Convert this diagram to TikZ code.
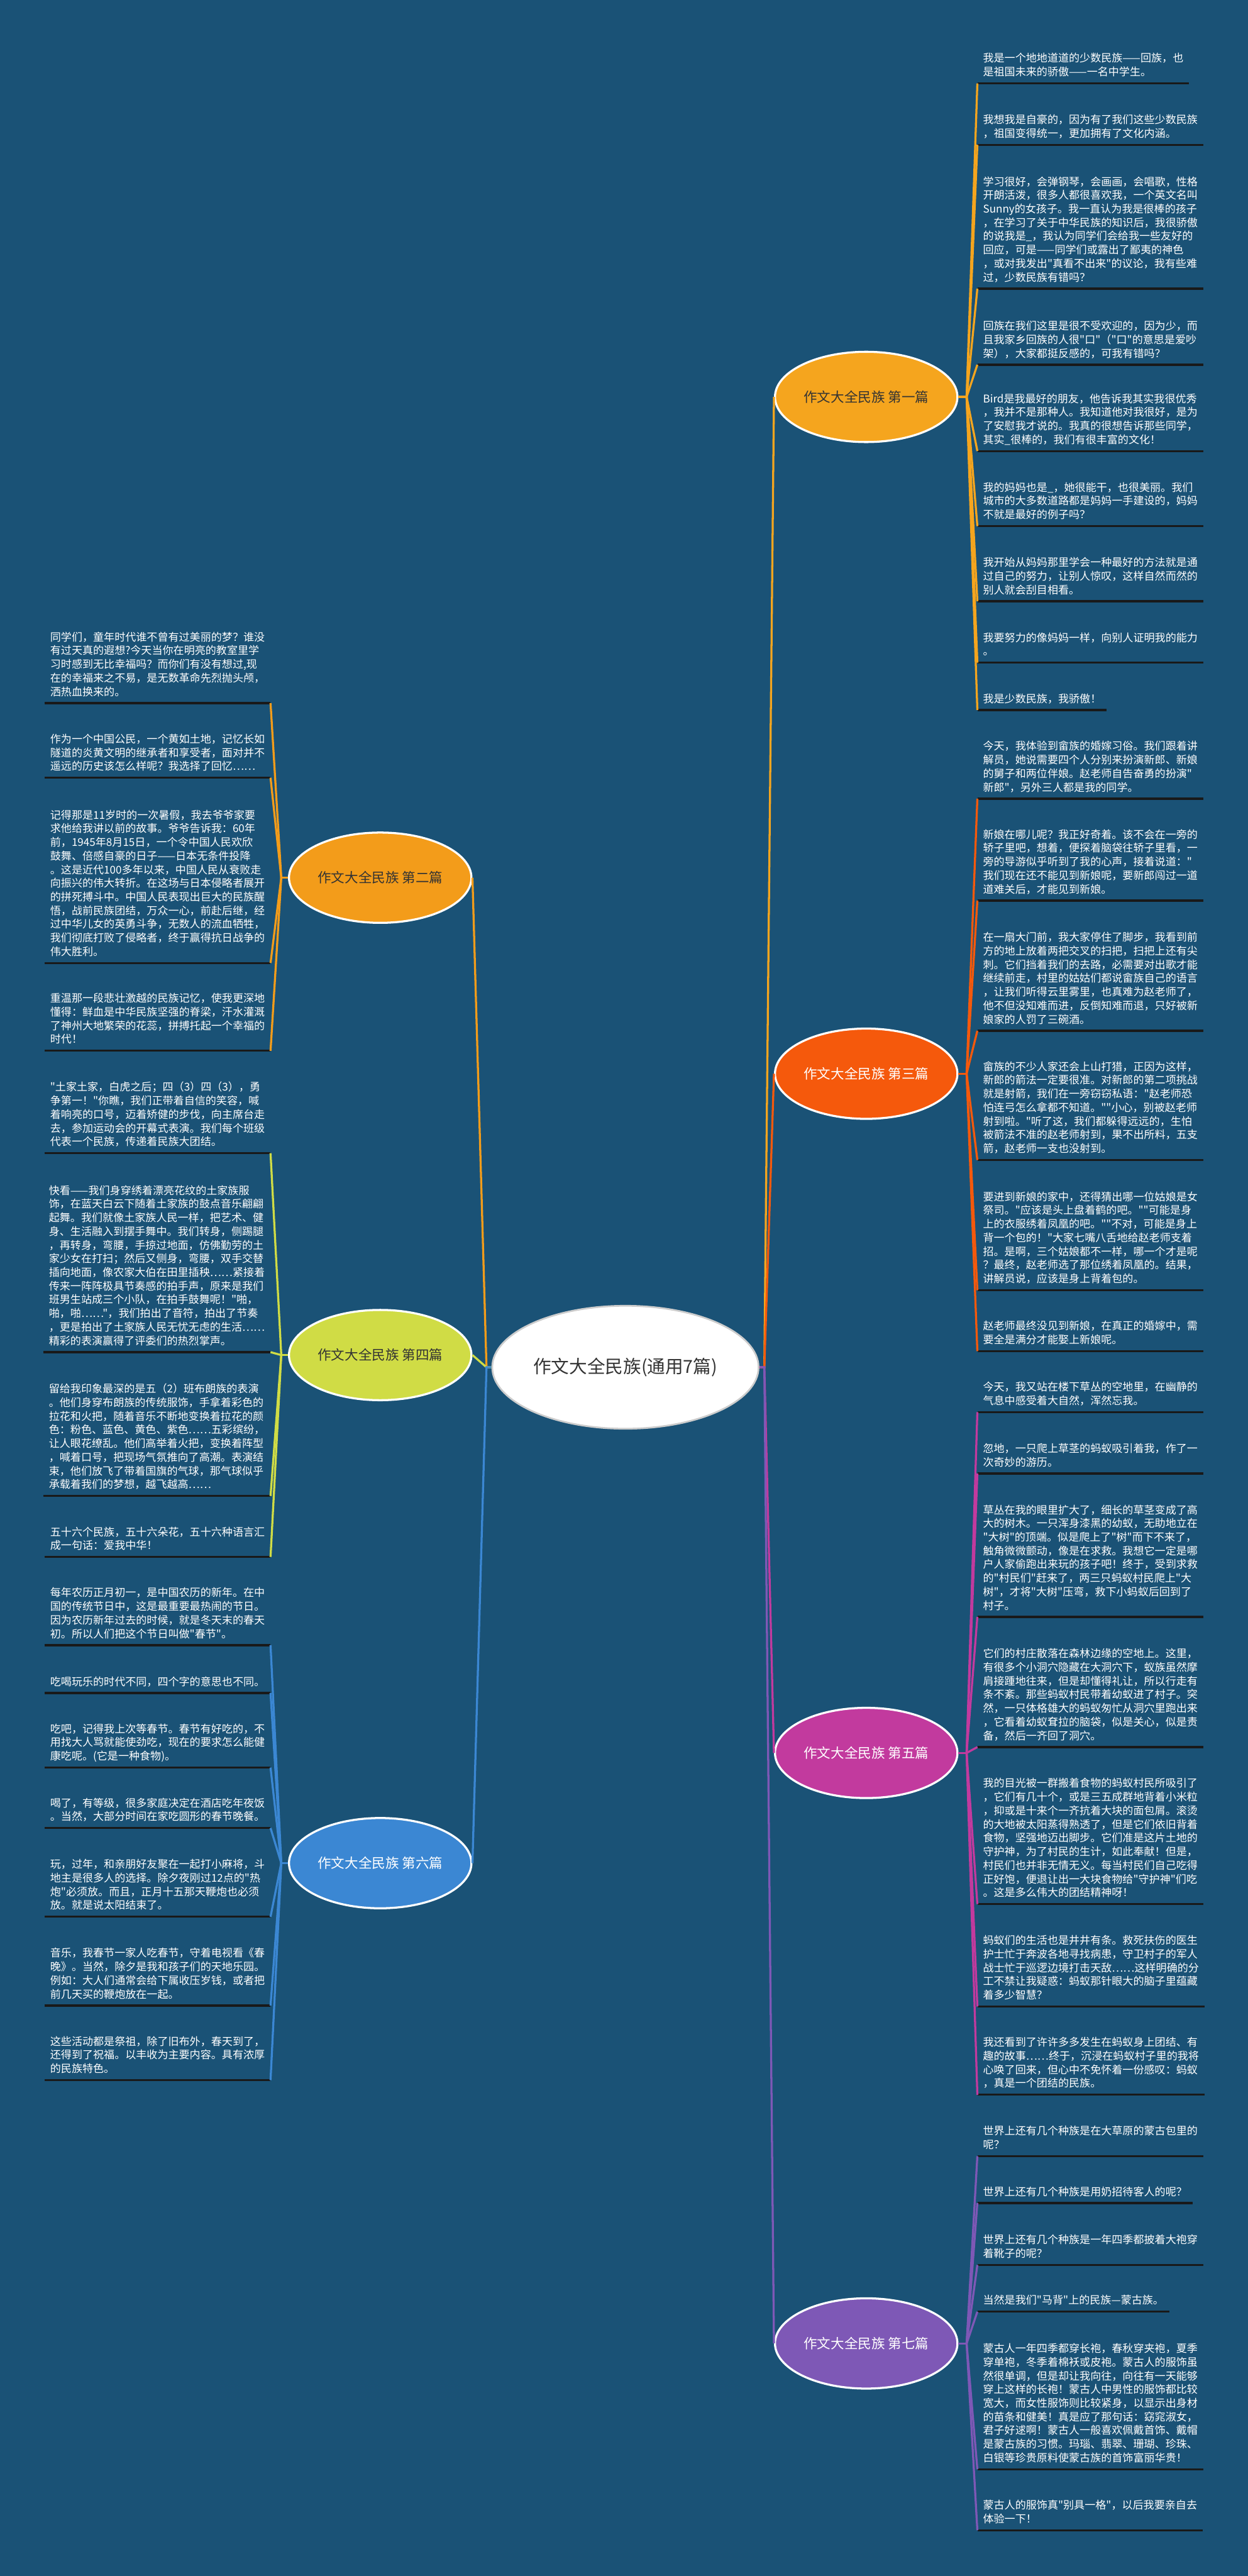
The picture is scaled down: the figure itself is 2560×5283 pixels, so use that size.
\documentclass[tikz,border=0pt]{standalone}
\usepackage{fontspec}
\newfontfamily\cjk{Noto Sans CJK SC}
\usetikzlibrary{shapes.geometric}
\definecolor{bgblue}{HTML}{1A5276}
\definecolor{yiOrange}{HTML}{F5A51E}
\definecolor{erOrange}{HTML}{F39C1A}
\definecolor{sanRed}{HTML}{F5590C}
\definecolor{siGreen}{HTML}{D0DC45}
\definecolor{wuPink}{HTML}{C23A9E}
\definecolor{liuBlue}{HTML}{3B87D3}
\definecolor{qiPurple}{HTML}{7E58B6}
\begin{document}
\begin{tikzpicture}[x=0.01cm, y=-0.01cm,
  hub/.style={ellipse, fill=white, draw=black!20, line width=1pt, minimum width=5.46cm,
              minimum height=2.52cm, inner sep=0pt, text=black!80,
              font=\cjk\fontsize{10.5pt}{12pt}\selectfont},
  branch/.style={ellipse, draw=white, line width=1.2pt, minimum width=3.74cm,
                 minimum height=1.85cm, inner sep=0pt, font=\cjk\fontsize{7.9pt}{9pt}\selectfont},
  txt/.style={align=left, text=white, inner xsep=0.11cm, inner ysep=0.146cm, text depth=0pt,
              font=\cjk\fontsize{6.26pt}{7.97pt}\selectfont},
  rtxt/.style={txt, anchor=south west},
  ltxt/.style={txt, anchor=south east},
  uline/.style={black!90, line width=1.2pt},
  con/.style={line width=1.2pt},
]
\fill[bgblue] (0,0) rectangle (2560,5283);
\useasboundingbox (0,0) rectangle (2560,5283);

% hub and the seven essays
\node[hub] (hub) at (1283,2804) {作文大全民族(通用7篇)};
\node[branch, fill=yiOrange, text=black!80] (p1) at (1777,814) {作文大全民族 第一篇};
\node[branch, fill=erOrange, text=black!80] (p2) at (780,1800) {作文大全民族 第二篇};
\node[branch, fill=sanRed, text=white] (p3) at (1777,2202) {作文大全民族 第三篇};
\node[branch, fill=siGreen, text=black!80] (p4) at (780,2779) {作文大全民族 第四篇};
\node[branch, fill=wuPink, text=white] (p5) at (1777,3595) {作文大全民族 第五篇};
\node[branch, fill=liuBlue, text=white] (p6) at (780,3821) {作文大全民族 第六篇};
\node[branch, fill=qiPurple, text=white] (p7) at (1777,4806) {作文大全民族 第七篇};

\coordinate (jr) at (1568,2804);
\coordinate (jl) at (998,2804);
\coordinate (j1) at (1983,814);
\coordinate (j3) at (1983,2202);
\coordinate (j5) at (1983,3595);
\coordinate (j7) at (1983,4806);
\coordinate (j2) at (577,1800);
\coordinate (j4) at (577,2779);
\coordinate (j6) at (577,3821);

% right column
\node[rtxt] (r1) at (2005,171) {我是一个地地道道的少数民族——回族，也\\
是祖国未来的骄傲——一名中学生。};
\node[rtxt] (r2) at (2005,297) {我想我是自豪的，因为有了我们这些少数民族\\
，祖国变得统一，更加拥有了文化内涵。};
\node[rtxt] (r3) at (2005,592) {学习很好，会弹钢琴，会画画，会唱歌，性格\\
开朗活泼，很多人都很喜欢我，一个英文名叫\\
Sunny的女孩子。我一直认为我是很棒的孩子\\
，在学习了关于中华民族的知识后，我很骄傲\\
的说我是\_，我认为同学们会给我一些友好的\\
回应，可是——同学们或露出了鄙夷的神色\\
，或对我发出"真看不出来"的议论，我有些难\\
过，少数民族有错吗？};
\node[rtxt] (r4) at (2005,748) {回族在我们这里是很不受欢迎的，因为少，而\\
且我家乡回族的人很"口"（"口"的意思是爱吵\\
架），大家都挺反感的，可我有错吗？};
\node[rtxt] (r5) at (2005,925) {Bird是我最好的朋友，他告诉我其实我很优秀\\
，我并不是那种人。我知道他对我很好，是为\\
了安慰我才说的。我真的很想告诉那些同学，\\
其实\_很棒的，我们有很丰富的文化！};
\node[rtxt] (r6) at (2005,1079) {我的妈妈也是\_，她很能干，也很美丽。我们\\
城市的大多数道路都是妈妈一手建设的，妈妈\\
不就是最好的例子吗？};
\node[rtxt] (r7) at (2005,1233) {我开始从妈妈那里学会一种最好的方法就是通\\
过自己的努力，让别人惊叹，这样自然而然的\\
别人就会刮目相看。};
\node[rtxt] (r8) at (2005,1359) {我要努力的像妈妈一样，向别人证明我的能力\\
。};
\node[rtxt] (r9) at (2005,1456) {我是少数民族，我骄傲！};
\node[rtxt] (r10) at (2005,1638) {今天，我体验到畲族的婚嫁习俗。我们跟着讲\\
解员，她说需要四个人分别来扮演新郎、新娘\\
的舅子和两位伴娘。赵老师自告奋勇的扮演"\\
新郎"，另外三人都是我的同学。};
\node[rtxt] (r11) at (2005,1847) {新娘在哪儿呢？我正好奇着。该不会在一旁的\\
轿子里吧，想着，便探着脑袋往轿子里看，一\\
旁的导游似乎听到了我的心声，接着说道："\\
我们现在还不能见到新娘呢，要新郎闯过一道\\
道难关后，才能见到新娘。};
\node[rtxt] (r12) at (2005,2114) {在一扇大门前，我大家停住了脚步，我看到前\\
方的地上放着两把交叉的扫把，扫把上还有尖\\
刺。它们挡着我们的去路，必需要对出歌才能\\
继续前走，村里的姑姑们都说畲族自己的语言\\
，让我们听得云里雾里，也真难为赵老师了，\\
他不但没知难而进，反倒知难而退，只好被新\\
娘家的人罚了三碗酒。};
\node[rtxt] (r13) at (2005,2379) {畲族的不少人家还会上山打猎，正因为这样，\\
新郎的箭法一定要很准。对新郎的第二项挑战\\
就是射箭，我们在一旁窃窃私语："赵老师恐\\
怕连弓怎么拿都不知道。""小心，别被赵老师\\
射到啦。"听了这，我们都躲得远远的，生怕\\
被箭法不准的赵老师射到，果不出所料，五支\\
箭，赵老师一支也没射到。};
\node[rtxt] (r14) at (2005,2646) {要进到新娘的家中，还得猜出哪一位姑娘是女\\
祭司。"应该是头上盘着鹤的吧。""可能是身\\
上的衣服绣着凤凰的吧。""不对，可能是身上\\
背一个包的！"大家七嘴八舌地给赵老师支着\\
招。是啊，三个姑娘都不一样，哪一个才是呢\\
？最终，赵老师选了那位绣着凤凰的。结果，\\
讲解员说，应该是身上背着包的。};
\node[rtxt] (r15) at (2005,2771) {赵老师最终没见到新娘，在真正的婚嫁中，需\\
要全是满分才能娶上新娘呢。};
\node[rtxt] (r16) at (2005,2896) {今天，我又站在楼下草丛的空地里，在幽静的\\
气息中感受着大自然，浑然忘我。};
\node[rtxt] (r17) at (2005,3022) {忽地，一只爬上草茎的蚂蚁吸引着我，作了一\\
次奇妙的游历。};
\node[rtxt] (r18) at (2005,3316) {草丛在我的眼里扩大了，细长的草茎变成了高\\
大的树木。一只浑身漆黑的幼蚁，无助地立在\\
"大树"的顶端。似是爬上了"树"而下不来了，\\
触角微微颤动，像是在求救。我想它一定是哪\\
户人家偷跑出来玩的孩子吧！终于，受到求救\\
的"村民们"赶来了，两三只蚂蚁村民爬上"大\\
树"，才将"大树"压弯，救下小蚂蚁后回到了\\
村子。};
\node[rtxt] (r19) at (2005,3583) {它们的村庄散落在森林边缘的空地上。这里，\\
有很多个小洞穴隐藏在大洞穴下，蚁族虽然摩\\
肩接踵地往来，但是却懂得礼让，所以行走有\\
条不紊。那些蚂蚁村民带着幼蚁进了村子。突\\
然，一只体格雄大的蚂蚁匆忙从洞穴里跑出来\\
，它看着幼蚁耷拉的脑袋，似是关心，似是责\\
备，然后一齐回了洞穴。};
\node[rtxt] (r20) at (2005,3905) {我的目光被一群搬着食物的蚂蚁村民所吸引了\\
，它们有几十个，或是三五成群地背着小米粒\\
，抑或是十来个一齐抗着大块的面包屑。滚烫\\
的大地被太阳蒸得熟透了，但是它们依旧背着\\
食物，坚强地迈出脚步。它们准是这片土地的\\
守护神，为了村民的生计，如此奉献！但是，\\
村民们也并非无情无义。每当村民们自己吃得\\
正好饱，便退让出一大块食物给"守护神"们吃\\
。这是多么伟大的团结精神呀！};
\node[rtxt] (r21) at (2005,4115) {蚂蚁们的生活也是井井有条。救死扶伤的医生\\
护士忙于奔波各地寻找病患，守卫村子的军人\\
战士忙于巡逻边境打击天敌……这样明确的分\\
工不禁让我疑惑：蚂蚁那针眼大的脑子里蕴藏\\
着多少智慧？};
\node[rtxt] (r22) at (2005,4296) {我还看到了许许多多发生在蚂蚁身上团结、有\\
趣的故事……终于，沉浸在蚂蚁村子里的我将\\
心唤了回来，但心中不免怀着一份感叹：蚂蚁\\
，真是一个团结的民族。};
\node[rtxt] (r23) at (2005,4422) {世界上还有几个种族是在大草原的蒙古包里的\\
呢？};
\node[rtxt] (r24) at (2005,4518) {世界上还有几个种族是用奶招待客人的呢？};
\node[rtxt] (r25) at (2005,4645) {世界上还有几个种族是一年四季都披着大袍穿\\
着靴子的呢？};
\node[rtxt] (r26) at (2005,4741) {当然是我们"马背"上的民族—蒙古族。};
\node[rtxt] (r27) at (2005,5064) {蒙古人一年四季都穿长袍，春秋穿夹袍，夏季\\
穿单袍，冬季着棉袄或皮袍。蒙古人的服饰虽\\
然很单调，但是却让我向往，向往有一天能够\\
穿上这样的长袍！蒙古人中男性的服饰都比较\\
宽大，而女性服饰则比较紧身，以显示出身材\\
的苗条和健美！真是应了那句话：窈窕淑女，\\
君子好逑啊！蒙古人一般喜欢佩戴首饰、戴帽\\
是蒙古族的习惯。玛瑙、翡翠、珊瑚、珍珠、\\
白银等珍贵原料使蒙古族的首饰富丽华贵！};
\node[rtxt] (r28) at (2005,5189) {蒙古人的服饰真"别具一格"，以后我要亲自去\\
体验一下！};

% left column
\node[ltxt] (l1) at (555,1442) {同学们，童年时代谁不曾有过美丽的梦？谁没\\
有过天真的遐想?今天当你在明亮的教室里学\\
习时感到无比幸福吗？而你们有没有想过,现\\
在的幸福来之不易，是无数革命先烈抛头颅，\\
洒热血换来的。};
\node[ltxt] (l2) at (555,1595) {作为一个中国公民，一个黄如土地，记忆长如\\
隧道的炎黄文明的继承者和享受者，面对并不\\
遥远的历史该怎么样呢？我选择了回忆……};
\node[ltxt] (l3) at (555,1975) {记得那是11岁时的一次暑假，我去爷爷家要\\
求他给我讲以前的故事。爷爷告诉我：60年\\
前，1945年8月15日，一个令中国人民欢欣\\
鼓舞、倍感自豪的日子——日本无条件投降\\
。这是近代100多年以来，中国人民从衰败走\\
向振兴的伟大转折。在这场与日本侵略者展开\\
的拼死搏斗中。中国人民表现出巨大的民族醒\\
悟，战前民族团结，万众一心，前赴后继，经\\
过中华儿女的英勇斗争，无数人的流血牺牲，\\
我们彻底打败了侵略者，终于赢得抗日战争的\\
伟大胜利。};
\node[ltxt] (l4) at (555,2155) {重温那一段悲壮激越的民族记忆，使我更深地\\
懂得：鲜血是中华民族坚强的脊梁，汗水灌溉\\
了神州大地繁荣的花蕊，拼搏托起一个幸福的\\
时代！};
\node[ltxt] (l5) at (555,2365) {"土家土家，白虎之后；四（3）四（3），勇\\
争第一！"你瞧，我们正带着自信的笑容，喊\\
着响亮的口号，迈着矫健的步伐，向主席台走\\
去，参加运动会的开幕式表演。我们每个班级\\
代表一个民族，传递着民族大团结。};
\node[ltxt] (l6) at (555,2773) {快看——我们身穿绣着漂亮花纹的土家族服\\
饰，在蓝天白云下随着土家族的鼓点音乐翩翩\\
起舞。我们就像土家族人民一样，把艺术、健\\
身、生活融入到摆手舞中。我们转身，侧踢腿\\
，再转身，弯腰，手掠过地面，仿佛勤劳的土\\
家少女在打扫；然后又侧身，弯腰，双手交替\\
插向地面，像农家大伯在田里插秧……紧接着\\
传来一阵阵极具节奏感的拍手声，原来是我们\\
班男生站成三个小队，在拍手鼓舞呢！"啪，\\
啪，啪……"，我们拍出了音符，拍出了节奏\\
，更是拍出了土家族人民无忧无虑的生活……\\
精彩的表演赢得了评委们的热烈掌声。};
\node[ltxt] (l7) at (555,3068) {留给我印象最深的是五（2）班布朗族的表演\\
。他们身穿布朗族的传统服饰，手拿着彩色的\\
拉花和火把，随着音乐不断地变换着拉花的颜\\
色：粉色、蓝色、黄色、紫色……五彩缤纷，\\
让人眼花缭乱。他们高举着火把，变换着阵型\\
，喊着口号，把现场气氛推向了高潮。表演结\\
束，他们放飞了带着国旗的气球，那气球似乎\\
承载着我们的梦想，越飞越高……};
\node[ltxt] (l8) at (555,3193) {五十六个民族，五十六朵花，五十六种语言汇\\
成一句话：爱我中华！};
\node[ltxt] (l9) at (555,3374) {每年农历正月初一，是中国农历的新年。在中\\
国的传统节日中，这是最重要最热闹的节日。\\
因为农历新年过去的时候，就是冬天末的春天\\
初。所以人们把这个节日叫做"春节"。};
\node[ltxt] (l10) at (555,3472) {吃喝玩乐的时代不同，四个字的意思也不同。};
\node[ltxt] (l11) at (555,3625) {吃吧，记得我上次等春节。春节有好吃的，不\\
用找大人骂就能使劲吃，现在的要求怎么能健\\
康吃呢。(它是一种食物)。};
\node[ltxt] (l12) at (555,3749) {喝了，有等级，很多家庭决定在酒店吃年夜饭\\
。当然，大部分时间在家吃圆形的春节晚餐。};
\node[ltxt] (l13) at (555,3931) {玩，过年，和亲朋好友聚在一起打小麻将，斗\\
地主是很多人的选择。除夕夜刚过12点的"热\\
炮"必须放。而且，正月十五那天鞭炮也必须\\
放。就是说太阳结束了。};
\node[ltxt] (l14) at (555,4113) {音乐，我春节一家人吃春节，守着电视看《春\\
晚》。当然，除夕是我和孩子们的天地乐园。\\
例如：大人们通常会给下属收压岁钱，或者把\\
前几天买的鞭炮放在一起。};
\node[ltxt] (l15) at (555,4266) {这些活动都是祭祖，除了旧布外，春天到了，\\
还得到了祝福。以丰收为主要内容。具有浓厚\\
的民族特色。};

% underlines
\foreach \i in {1,...,28} \draw[uline] (r\i.south west) -- (r\i.south east);
\foreach \i in {1,...,15} \draw[uline] (l\i.south west) -- (l\i.south east);

% hub to essays
\draw[con, yiOrange] (hub.east) -- (jr) -- (p1.west);
\draw[con, sanRed] (hub.east) -- (jr) -- (p3.west);
\draw[con, wuPink] (hub.east) -- (jr) -- (p5.west);
\draw[con, qiPurple] (hub.east) -- (jr) -- (p7.west);
\draw[con, erOrange] (hub.west) -- (jl) -- (p2.east);
\draw[con, siGreen] (hub.west) -- (jl) -- (p4.east);
\draw[con, liuBlue] (hub.west) -- (jl) -- (p6.east);

% essays to paragraphs
\draw[con, yiOrange] (p1.east) -- (j1);
\foreach \i in {1,...,9} \draw[con, yiOrange] (j1) -- (r\i.south west);
\draw[con, sanRed] (p3.east) -- (j3);
\foreach \i in {10,...,15} \draw[con, sanRed] (j3) -- (r\i.south west);
\draw[con, wuPink] (p5.east) -- (j5);
\foreach \i in {16,...,22} \draw[con, wuPink] (j5) -- (r\i.south west);
\draw[con, qiPurple] (p7.east) -- (j7);
\foreach \i in {23,...,28} \draw[con, qiPurple] (j7) -- (r\i.south west);
\draw[con, erOrange] (p2.west) -- (j2);
\foreach \i in {1,...,4} \draw[con, erOrange] (j2) -- (l\i.south east);
\draw[con, siGreen] (p4.west) -- (j4);
\foreach \i in {5,...,8} \draw[con, siGreen] (j4) -- (l\i.south east);
\draw[con, liuBlue] (p6.west) -- (j6);
\foreach \i in {9,...,15} \draw[con, liuBlue] (j6) -- (l\i.south east);
\end{tikzpicture}
\end{document}
